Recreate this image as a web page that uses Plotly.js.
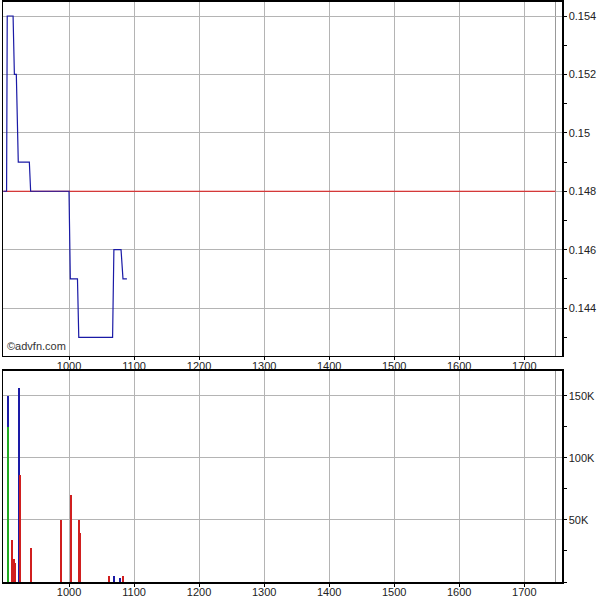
<!DOCTYPE html>
<html>
<head>
<meta charset="utf-8">
<script src="https://cdn.plot.ly/plotly-3.0.1.min.js"></script>
<style>html,body{margin:0;padding:0;background:#fff;}#chart{width:600px;height:600px;}</style>
</head>
<body>
<div id="chart"></div>
<script>
// Price series (time index vs price)
const priceX = [899, 904, 905, 914, 916, 919, 922, 939, 941, 1000, 1002, 1013, 1015, 1067, 1069, 1080, 1083, 1089];
const priceY = [0.148, 0.148, 0.154, 0.154, 0.152, 0.152, 0.149, 0.149, 0.148, 0.148, 0.145, 0.145, 0.143, 0.143, 0.146, 0.146, 0.145, 0.145];
// Reference (previous close) line
const refX = [899, 1748];
const refY = [0.148, 0.148];
// Volume bars by colour group
const volBlueX = [906.6, 914.3, 923.5, 1069.2, 1078.5];
const volBlueY = [149500, 4000, 156000, 4800, 3200];
const volGreenX = [906.6];
const volGreenY = [125000];
const volRedX = [912.8, 915.8, 916.9, 924.2, 925.4, 942, 987.2, 1003.1, 1015.8, 1017.4, 1062, 1083.1];
const volRedY = [33900, 18600, 15000, 86400, 80000, 27200, 50000, 70300, 50000, 39800, 4800, 4800];
// Tick labels
const xTicks = [1000, 1100, 1200, 1300, 1400, 1500, 1600, 1700];
const priceTickVals = [0.144, 0.146, 0.148, 0.15, 0.152, 0.154];
const priceTickText = ["0.144", "0.146", "0.148", "0.15", "0.152", "0.154"];
const volTickVals = [50000, 100000, 150000];
const volTickText = ["50K", "100K", "150K"];

const xRange = [898.5, 1758];
const font = {family: "Liberation Sans, Arial, sans-serif", size: 11, color: "#222"};
const barW = 2.6;

const traces = [
  {x: refX, y: refY, type: "scatter", mode: "lines", line: {color: "#dd1111", width: 1}, xaxis: "x", yaxis: "y", hoverinfo: "skip"},
  {x: priceX, y: priceY, type: "scatter", mode: "lines", line: {color: "#1a1aa6", width: 1.2}, xaxis: "x", yaxis: "y"},
  {x: volBlueX, y: volBlueY, type: "bar", marker: {color: "#1a1aa6", line: {width: 0}}, width: barW, xaxis: "x2", yaxis: "y2"},
  {x: volGreenX, y: volGreenY, type: "bar", marker: {color: "#22aa22", line: {width: 0}}, width: barW, xaxis: "x2", yaxis: "y2"},
  {x: volRedX, y: volRedY, type: "bar", marker: {color: "#d01f1f", line: {width: 0}}, width: barW, xaxis: "x2", yaxis: "y2"}
];

const axCommon = {
  showline: true, mirror: true, linecolor: "#000", linewidth: 1.5,
  showgrid: true, gridcolor: "#b4b4b4", gridwidth: 1,
  zeroline: false, ticks: "outside", ticklen: 3, tickcolor: "#000",
  tickfont: font
};

const xAxCommon = Object.assign({}, axCommon, {range: xRange, tickvals: xTicks, ticktext: xTicks.map(String), domain: [0, 1], ticklabelstandoff: -4});

const layout = {
  width: 600, height: 600,
  margin: {l: 3, r: 38, t: 0, b: 0},
  paper_bgcolor: "#fff", plot_bgcolor: "#fff",
  showlegend: false, barmode: "overlay", bargap: 0,
  font: font,
  xaxis: Object.assign({}, xAxCommon, {anchor: "y"}),
  yaxis: Object.assign({}, axCommon, {domain: [0.4067, 0.9967], range: [0.14236, 0.15448], side: "right", tickvals: priceTickVals, ticktext: priceTickText,
    minor: {dtick: 0.001, tick0: 0.144, ticks: "outside", ticklen: 3, tickcolor: "#000", showgrid: false}, anchor: "x"}),
  xaxis2: Object.assign({}, xAxCommon, {anchor: "y2"}),
  yaxis2: Object.assign({}, axCommon, {domain: [0.03, 0.3817], range: [0, 170000], side: "right", tickvals: volTickVals, ticktext: volTickText,
    minor: {dtick: 25000, tick0: 0, ticks: "outside", ticklen: 3, tickcolor: "#000", showgrid: false}, anchor: "x2"}),
  shapes: [
    {type: "line", xref: "x", yref: "y domain", x0: 1748, x1: 1748, y0: 0, y1: 1, line: {color: "#999", width: 1}, layer: "below"},
    {type: "line", xref: "x2", yref: "y2 domain", x0: 1748, x1: 1748, y0: 0, y1: 1, line: {color: "#999", width: 1}, layer: "below"}
  ],
  annotations: [
    {text: "©advfn.com", xref: "x domain", yref: "y domain", x: 0.003, y: 0.005, xanchor: "left", yanchor: "bottom", showarrow: false,
     font: {family: "Liberation Sans, Arial, sans-serif", size: 11, color: "#333"}}
  ]
};

Plotly.newPlot("chart", traces, layout, {displayModeBar: false, staticPlot: true});
</script>
</body>
</html>
